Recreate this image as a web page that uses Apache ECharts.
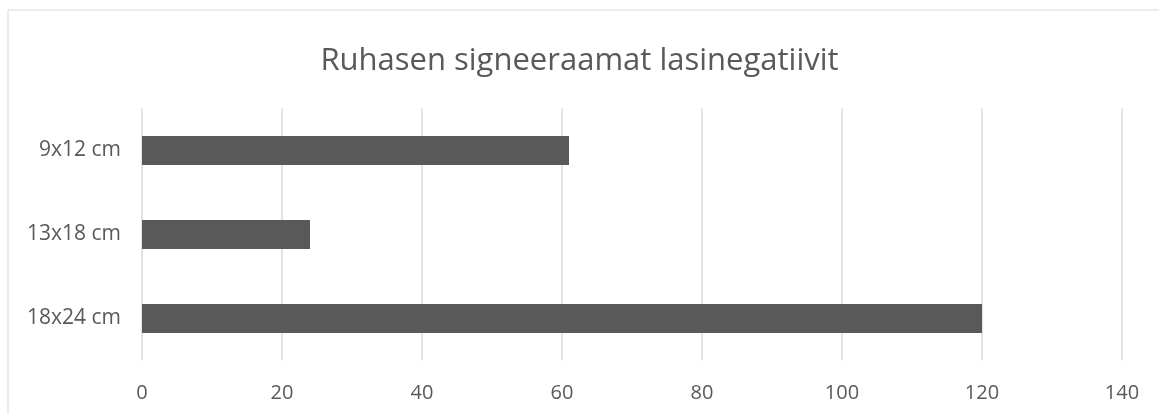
<!DOCTYPE html>
<html lang="fi">
<head>
	<meta charset="UTF-8">
	<title>Ruhasen signeeraamat lasinegatiivit</title>
	<style type="text/css">
	body,html{
		width: 100%;
		height: 100%;
		margin: 0;
		padding: 0;
		background: #fff;
	}
	#chart{
		width: 1159px;
		height: 414px;
	}
	</style>
</head>
<body>
	<div id="chart"></div>
<script type="text/javascript" src="https://cdn.jsdelivr.net/npm/echarts@6/dist/echarts.min.js"></script>
<script type="text/javascript">
	// data
	var categories = ['9x12 cm', '13x18 cm', '18x24 cm'];
	var counts = [61, 24, 120];
	var xTicks = [0, 20, 40, 60, 80, 100, 120, 140];

	var textColor = '#595959';
	var fontFamily = '"Open Sans", "Noto Sans", sans-serif';

	var chart = echarts.init(document.getElementById('chart'), null, {renderer: 'canvas'});

	var option = {
		animation: false,
		backgroundColor: '#fff',
		title: {
			text: 'Ruhasen signeeraamat lasinegatiivit',
			left: 'center',
			top: 41,
			textStyle: {
				color: textColor,
				fontSize: 31,
				fontWeight: 'normal',
				fontFamily: fontFamily
			}
		},
		graphic: [{
			type: 'rect',
			shape: {x: 8, y: 10, width: 1170, height: 430},
			style: {fill: 'none', stroke: '#d9d9d9', lineWidth: 1}
		}],
		grid: {
			left: 142,
			right: 37,
			top: 108.5,
			bottom: 53.5,
			containLabel: false
		},
		xAxis: {
			type: 'value',
			min: xTicks[0],
			max: xTicks[xTicks.length - 1],
			interval: 20,
			axisLine: {show: false},
			axisTick: {show: false},
			splitLine: {lineStyle: {color: '#d9d9d9', width: 1.5}},
			axisLabel: {
				color: textColor,
				fontSize: 20,
				fontFamily: fontFamily,
				margin: 23
			}
		},
		yAxis: {
			type: 'category',
			data: categories,
			inverse: true,
			axisLine: {show: false},
			axisTick: {show: false},
			splitLine: {show: false},
			axisLabel: {
				color: textColor,
				fontSize: 21,
				fontFamily: fontFamily,
				margin: 21
			}
		},
		series: [{
			type: 'bar',
			data: counts,
			barWidth: '34.5%',
			itemStyle: {color: '#595959'}
		}]
	};

	chart.setOption(option, true);
	window.addEventListener('resize', function () {
		chart.resize();
	});
</script>
</body>
</html>
